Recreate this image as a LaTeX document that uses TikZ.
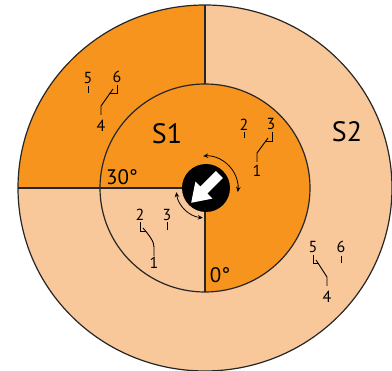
\documentclass[tikz,border=0pt]{standalone}
\usepackage{fontspec}
\setmainfont{PT Sans}
\usetikzlibrary{arrows.meta}
\definecolor{dko}{RGB}{247,148,29}
\definecolor{lto}{RGB}{248,199,154}
\begin{document}
\begin{tikzpicture}[x=1pt,y=-1pt,
  edge/.style={line width=1.2pt, draw=black!85},
  wire/.style={line width=0.9pt, line join=miter},
  num/.style={font=\fontsize{16}{16}\selectfont, inner sep=0pt},
  big/.style={font=\fontsize{28}{28}\selectfont, inner sep=0pt},
  ang/.style={font=\fontsize{21}{21}\selectfont, inner sep=0pt},
  turn/.style={line width=0.8pt, {Stealth[length=5pt,width=4.5pt]}-{Stealth[length=5pt,width=4.5pt]}}]
\useasboundingbox (0,0) rectangle (392,371);
\coordinate (c) at (205,188);
\coordinate (otop) at (205,5);
\coordinate (itop) at (205,84);
\coordinate (oleft) at (18,188);
\coordinate (ibot) at (205,292);
% outer ring
\fill[lto] (c) ellipse [x radius=187, y radius=183];
\begin{scope}
\clip (c) ellipse [x radius=187, y radius=183];
\fill[dko] (0,0) rectangle (c);
\end{scope}
% inner disc
\fill[dko] (c) ellipse [x radius=105, y radius=104];
\begin{scope}
\clip (c) ellipse [x radius=105, y radius=104];
\fill[lto] (c) rectangle (0,371);
\end{scope}
\draw[edge] (c) ellipse [x radius=187, y radius=183];
\draw[edge] (c) ellipse [x radius=105, y radius=104];
\draw[edge] (otop) -- (itop);
\draw[edge] (oleft) -- (c);
\draw[edge] (c) -- (ibot);
% hub
\node[circle, fill=black, minimum size=48pt, inner sep=0pt] (hub) at (206,188) {};
\fill[white] (191.2,202.8) -- (195.4,181.6) -- (200.4,186.6) -- (215.9,171.1)
  -- (222.9,178.1) -- (207.4,193.6) -- (212.4,198.6) -- cycle;
% rotation arrows
\draw[turn] ([shift={(-95:32)}]hub.center) arc [start angle=-95, end angle=7, radius=32];
\draw[turn] ([shift={(172:30)}]hub.center) arc [start angle=172, end angle=96, radius=30];
% labels
\node[big] (s1) at (167,134) {S1};
\node[big] (s2) at (347,132) {S2};
\node[ang] (a30) at (122,177) {30°};
\node[ang] (a0) at (220,275) {0°};
% top-left outer group
\node[num] (tl5) at (88,78) {5};
\node[num] (tl6) at (117,77) {6};
\node[num] (tl4) at (101,126) {4};
\draw[wire] (88,86) -- (88,93);
\draw[wire] (117,85) -- (117,93) -- (109,93);
\draw[wire] (113,89) -- (101,106) -- (101,115);
% inner top-right group
\node[num] (tr2) at (244,125) {2};
\node[num] (tr3) at (271,124) {3};
\node[num] (tr1) at (257,171) {1};
\draw[wire] (244,132) -- (244,138);
\draw[wire] (272,132) -- (272,141) -- (266,141);
\draw[wire] (268,138) -- (257,153) -- (257,162);
% inner bottom-left group
\node[num] (bl2) at (140,215) {2};
\node[num] (bl3) at (167,215) {3};
\node[num] (bl1) at (154,263) {1};
\draw[wire] (167,222) -- (167,230);
\draw[wire] (140,222) -- (140,231) -- (146,231);
\draw[wire] (143,228) .. controls (150,236) and (154,242) .. (154,247) -- (154,256);
% outer bottom-right group
\node[num] (br5) at (313,247) {5};
\node[num] (br6) at (341,247) {6};
\node[num] (br4) at (327,297) {4};
\draw[wire] (341,256) -- (341,263);
\draw[wire] (313,255) -- (313,263) -- (319,263);
\draw[wire] (316,260) -- (327,277) -- (327,286);
\end{tikzpicture}
\end{document}
